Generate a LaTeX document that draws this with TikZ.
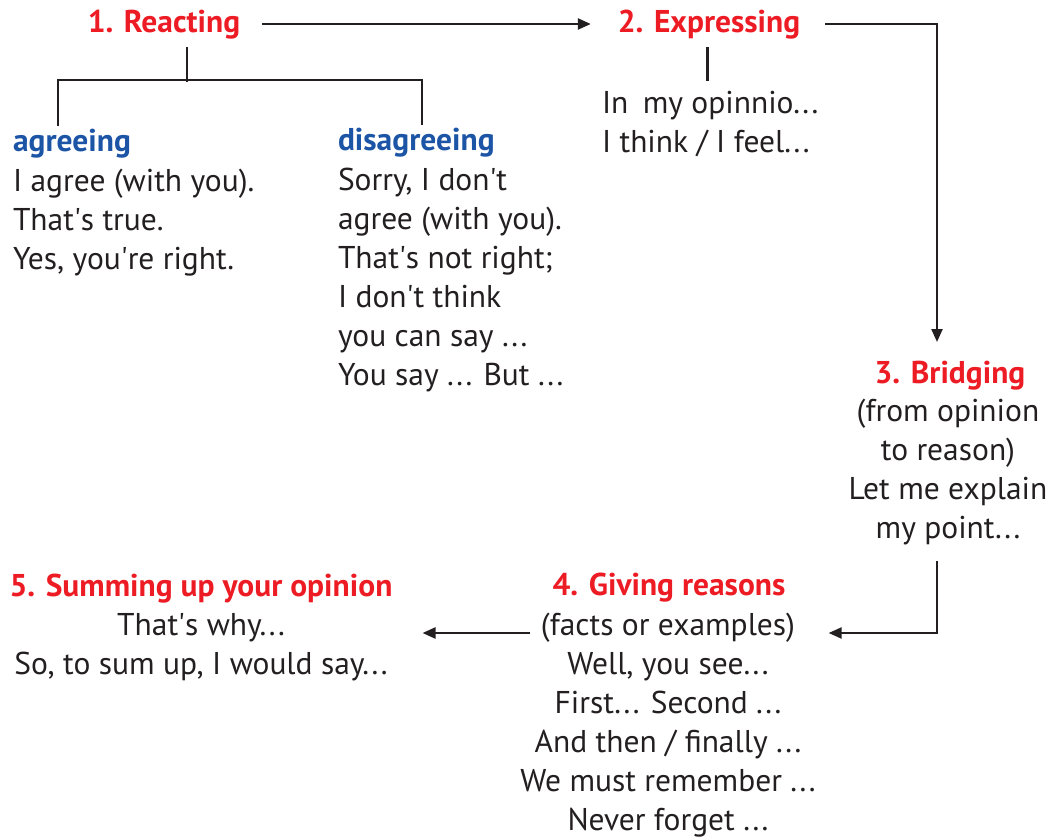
\documentclass[tikz,border=0pt]{standalone}
\usepackage{fontspec}
\setmainfont{PT Sans}
\usetikzlibrary{arrows.meta,calc}
\definecolor{stepred}{HTML}{ED1C24}
\definecolor{subblue}{HTML}{1C54A6}
\definecolor{ink}{HTML}{231F20}
\newcommand{\ap}{\textquotesingle}
% loosely spaced ellipsis
\newcommand{\etc}{.\kern2.5pt.\kern2.5pt.}

\begin{document}
\begin{tikzpicture}[x=1pt,y=-1pt,
  every node/.style={inner sep=0pt, outer sep=0pt, text=ink, font=\fontsize{31.5}{39}\selectfont},
  title/.style={font=\fontsize{31.5}{39}\selectfont\bfseries, text=stepred, anchor=base, text height=24pt, text depth=6pt},
  sub/.style={font=\fontsize{31.5}{39}\selectfont\bfseries, text=subblue, anchor=base west, text height=24pt, text depth=6pt},
  bodyl/.style={align=left, anchor=base west},
  bodyc/.style={align=center, anchor=base},
  conn/.style={draw=ink, line width=2.3pt},
  arr/.style={conn, -{Triangle[length=13pt,width=11pt]}}
]
\useasboundingbox (0,0) rectangle (1050,840);

% step titles
\node[title] (r1) at (164,33) {1. Reacting};
\node[title] (r2) at (709,33) {2. Expressing};
\node[title] (r3) at (950,383) {3. Bridging};
\node[title] (r4) at (669,595) {4. Giving reasons};
\node[title] (r5) at (201,596) {5. Summing up your opinion};

% reacting: two branches (body nodes are placed by their last baseline)
\node[sub] (ag) at (13,152) {agreeing};
\node[sub] (dis) at (338,151) {disagreeing};
\node[bodyl] (bag) at (13,269) {I agree (with you).\\That\ap s true.\\Yes, you\ap re right.};
\node[bodyl] (bdis) at (338,385) {Sorry, I don\ap t\\agree (with you).\\That\ap s not right;\\I don\ap t think\\you can say \etc\\You say \etc{} But \etc};

% expressing
\node[bodyl] (bex) at (602,153) {In\hspace{6pt} my opinnio\etc\\I think / I feel\etc};

% bridging
\node[bodyc] (bbr) at (948,538) {(from opinion\\to reason)\\Let me explain\\my point\etc};

% giving reasons
\node[bodyc] (bgr) at (668,830) {(facts or examples)\\Well, you see\etc\\First\etc{} Second \etc\\And then / finally \etc\\We must remember \etc\\Never forget \etc};

% summing up
\node[bodyc] (bsu) at (201,674) {That\ap s why\etc\\So, to sum up, I would say\etc};

% fork under Reacting
\draw[conn] ([xshift=23pt,yshift=-8pt]r1.south) -- ++(0,35);
\draw[conn] ([xshift=-14pt,yshift=2pt]ag.north) -- ++(0,-46) -| ([xshift=5.5pt,yshift=2pt]dis.north);

% stem under Expressing
\draw[conn] ([xshift=-1.5pt,yshift=-8pt]r2.south) -- ++(0,34);

% flow between the steps
\draw[arr] ([xshift=22pt]r1.east) -- ([xshift=-27pt]r2.west);
\draw[arr] ([xshift=25pt]r2.east) -| ([xshift=-13pt,yshift=17pt]r3.north);
\draw[arr] ([xshift=-11pt,yshift=-17pt]bbr.south) |- ($(bgr.base -| bgr.east)+(13pt,197pt)$);
\draw[arr] ($(bgr.base -| bgr.west)+(10pt,197pt)$) -- ($(bgr.base -| bsu.east)+(35pt,197pt)$);

\end{tikzpicture}
\end{document}
